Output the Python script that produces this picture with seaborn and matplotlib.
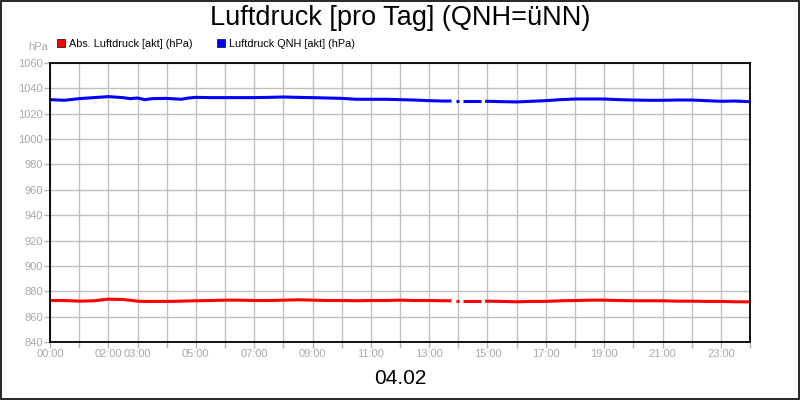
import numpy as np
import pandas as pd
import seaborn as sns
import matplotlib.pyplot as plt
from matplotlib.patches import Patch, Rectangle

# Messzeitpunkte (NaN = keine Daten)
zeiten = ["00:00", "00:30", "01:00", "01:30", "02:00", "02:30", "02:45", "03:00",
          "03:15", "03:30", "04:00", "04:30", "04:45", "05:00", "05:30", "06:00",
          "06:30", "07:00", "07:30", "08:00", "08:30", "09:00", "09:30", "10:00",
          "10:30", "11:00", "11:30", "12:00", "12:30", "13:00", "13:30", "13:46",
          "13:50", "13:56", "14:01", "14:05", "14:10", "14:30", "14:47", "14:51",
          "14:55", "15:00", "15:30", "16:00", "16:30", "17:00", "17:30", "18:00",
          "18:30", "19:00", "19:30", "20:00", "20:30", "21:00", "21:30", "22:00",
          "22:30", "23:00", "23:30", "24:00"]

qnh = [1031.1, 1030.6, 1031.9, 1032.7, 1033.5, 1032.7, 1031.9, 1032.4,
       1031.1, 1031.9, 1032.1, 1031.4, 1032.4, 1032.9, 1032.7, 1032.7,
       1032.7, 1032.7, 1032.9, 1033.2, 1032.9, 1032.7, 1032.4, 1032.1,
       1031.4, 1031.4, 1031.4, 1031.1, 1030.8, 1030.3, 1030.0, 1030.0,
       np.nan, 1030.0, 1030.0, np.nan, 1030.0, 1030.0, 1030.0, np.nan,
       1029.8, 1029.8, 1029.5, 1029.3, 1029.8, 1030.3, 1031.1, 1031.6,
       1031.6, 1031.6, 1031.1, 1030.8, 1030.6, 1030.6, 1030.8, 1030.8,
       1030.3, 1029.8, 1030.0, 1029.5]

abs_druck = [872.7, 872.7, 872.2, 872.5, 873.8, 873.5, 872.9, 872.2,
             872.0, 872.0, 872.0, 872.2, 872.4, 872.5, 872.7, 873.0,
             873.0, 872.7, 872.7, 873.0, 873.3, 873.0, 872.7, 872.7,
             872.5, 872.7, 872.7, 873.0, 872.7, 872.7, 872.5, 872.5,
             np.nan, 872.4, 872.4, np.nan, 872.2, 872.2, 872.2, np.nan,
             872.2, 872.2, 872.0, 871.7, 872.0, 872.0, 872.5, 872.7,
             873.0, 873.0, 872.7, 872.5, 872.5, 872.5, 872.2, 872.2,
             872.0, 872.0, 871.7, 871.7]

serien = ["Abs. Luftdruck [akt] (hPa)", "Luftdruck QNH [akt] (hPa)"]
farben = ["#ff0000", "#0000ff"]
x_labels = ["00:00", "02:00", "03:00", "05:00", "07:00", "09:00", "11:00",
            "13:00", "15:00", "17:00", "19:00", "21:00", "23:00"]
titel = "Luftdruck [pro Tag] (QNH=üNN)"
datum = "04.02"


def to_hours(t):
    h, m = t.split(":")
    return int(h) + int(m) / 60


stunden = [to_hours(t) for t in zeiten]
frames = []
for name, werte in zip(serien, [abs_druck, qnh]):
    d = pd.DataFrame({"stunde": stunden, "wert": werte, "serie": name})
    d["segment"] = d["wert"].isna().cumsum()
    frames.append(d.dropna())
df = pd.concat(frames, ignore_index=True)

sns.set_style("white")
plt.rcParams["font.family"] = ["Liberation Sans", "DejaVu Sans"]

fig = plt.figure(figsize=(8, 4), dpi=100)
ax = fig.add_axes([50 / 800, 1 - 342 / 400, 700 / 800, 279 / 400])

sns.lineplot(data=df, x="stunde", y="wert", hue="serie", units="segment",
             estimator=None, palette=dict(zip(serien, farben)), linewidth=2.2,
             legend=False, ax=ax, solid_capstyle="butt")

grau = "#b4b4b4"
ax.set_xlim(0, 24)
ax.set_ylim(840, 1060)
ax.set_xticks(range(0, 25))
ax.set_xticklabels([f"{h:02d}:00" if f"{h:02d}:00" in x_labels else "" for h in range(25)])
ax.set_yticks(range(840, 1061, 20))
ax.grid(True, color="#c0c0c0", linewidth=1)
ax.tick_params(axis="both", colors=grau, labelsize=8, length=4, width=1,
               direction="out", bottom=True, left=True)
ax.tick_params(axis="both", labelcolor="#a8a8a8", pad=1)
ax.set_xlabel("")
ax.set_ylabel("")
for s in ax.spines.values():
    s.set_color("black")
    s.set_linewidth(1.3)

fig.text(0.5, 1 - 18 / 400, titel, ha="center", va="center", fontsize=19.5, color="black")
fig.text(0.5, 1 - 378 / 400, datum, ha="center", va="center", fontsize=15, color="black")
fig.text(48 / 800, 1 - 47 / 400, "hPa", ha="right", va="center", fontsize=8, color="#a8a8a8")

handles = [Patch(facecolor=c, edgecolor="#222222", linewidth=0.6) for c in farben]
leg = fig.legend(handles, serien, loc="center left", bbox_to_anchor=(57 / 800, 1 - 44 / 400),
                 ncol=2, frameon=False, fontsize=7.8, handlelength=0.75, handleheight=0.75,
                 handletextpad=0.35, columnspacing=2.3, borderaxespad=0, borderpad=0)
for t in leg.get_texts():
    t.set_color("black")

fig.patches.append(Rectangle((0.0008, 0.0015), 0.9984, 0.997, transform=fig.transFigure,
                             fill=False, edgecolor="black", linewidth=1.2))

fig.savefig("out.png", dpi=100)
